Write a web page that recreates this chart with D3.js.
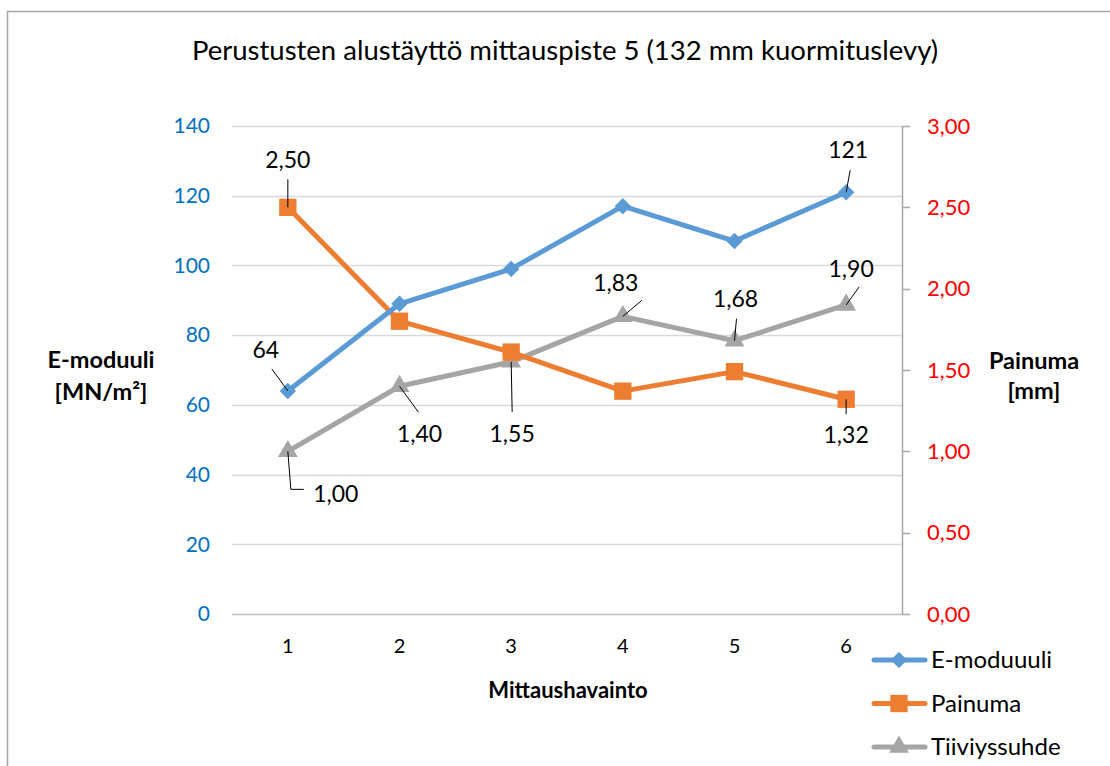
<!DOCTYPE html>
<meta charset="utf-8">
<head>
    <title>Perustusten alustäyttö</title>
    <script src="https://cdn.jsdelivr.net/npm/d3@7"></script>
    <style>
        body { margin: 0; background: #fff; }
        text { font-family: Lato, "Open Sans", sans-serif; }
    </style>
</head>
<body>
<div id="chart"></div>
<script>
    // data
    const categories = ["1", "2", "3", "4", "5", "6"];
    const eModuuli = [64, 89, 99, 117, 107, 121];
    const painuma = [2.50, 1.80, 1.61, 1.37, 1.49, 1.32];
    const tiiviyssuhde = [1.00, 1.40, 1.55, 1.83, 1.68, 1.90];
    const leftTicks = [0, 20, 40, 60, 80, 100, 120, 140];
    const rightTicks = [0, 0.5, 1, 1.5, 2, 2.5, 3];

    // which points get a data label (index), with label offset from the point
    const eLabels = [{i: 0, dx: -22, dy: -41, lx: -16, ly: -22}, {i: 5, dx: 2, dy: -42, lx: 4, ly: -22}];
    const pLabels = [{i: 0, dx: 0, dy: -47, lx: 0, ly: -28}, {i: 5, dx: 0, dy: 36, lx: 0, ly: 15}];
    const tLabels = [
        {i: 0, dx: 48, dy: 43, leader: [[0, 0], [3, 38], [16, 38]]},
        {i: 1, dx: 20, dy: 48, leader: [[0, 0], [19, 26]]},
        {i: 2, dx: 1, dy: 72, leader: [[0, 0], [1, 50]]},
        {i: 3, dx: -7, dy: -33, leader: [[0, 0], [19, -16]]},
        {i: 4, dx: 1, dy: -42, leader: [[0, 0], [2, -22]]},
        {i: 5, dx: 5, dy: -36, leader: [[0, 0], [13, -18]]}
    ];

    const width = 1110, height = 766;
    const plot = {left: 232, right: 902, top: 126, bottom: 614};

    const svg = d3.select("#chart").append("svg")
        .attr("width", width).attr("height", height);

    // outer chart border (cut by window on right and bottom)
    svg.append("rect")
        .attr("x", 7.5).attr("y", 11.5)
        .attr("width", 1120).attr("height", 800)
        .attr("fill", "none").attr("stroke", "#a6a6a6").attr("stroke-width", 1.5);

    const x = d3.scaleBand().domain(categories).range([plot.left, plot.right]);
    const xc = d => x(d) + x.bandwidth() / 2;
    const yL = d3.scaleLinear().domain([0, 140]).range([plot.bottom, plot.top]);
    const yR = d3.scaleLinear().domain([0, 3]).range([plot.bottom, plot.top]);

    // gridlines
    svg.append("g").selectAll("line").data(leftTicks).join("line")
        .attr("x1", plot.left).attr("x2", plot.right)
        .attr("y1", d => Math.round(yL(d)) + 0.5).attr("y2", d => Math.round(yL(d)) + 0.5)
        .attr("stroke", d => d === 0 ? "#bfbfbf" : "#d9d9d9").attr("stroke-width", 1.5);

    // left axis labels
    svg.append("g").selectAll("text").data(leftTicks).join("text")
        .attr("x", 210).attr("y", d => yL(d)).attr("dy", "0.35em")
        .attr("text-anchor", "end").attr("fill", "#0070c0")
        .style("font-size", "21px").text(d => d);

    // right axis
    const rAxis = svg.append("g");
    rAxis.append("line")
        .attr("x1", plot.right + 0.5).attr("x2", plot.right + 0.5)
        .attr("y1", plot.top).attr("y2", plot.bottom)
        .attr("stroke", "#a6a6a6").attr("stroke-width", 1.5);
    rAxis.selectAll("line.t").data(rightTicks).join("line").attr("class", "t")
        .attr("x1", plot.right).attr("x2", plot.right + 8)
        .attr("y1", d => Math.round(yR(d)) + 0.5).attr("y2", d => Math.round(yR(d)) + 0.5)
        .attr("stroke", "#a6a6a6").attr("stroke-width", 1.5);
    const fmt = d => d3.format(".2f")(d).replace(".", ",");
    rAxis.selectAll("text").data(rightTicks).join("text")
        .attr("x", 927).attr("y", d => yR(d)).attr("dy", "0.35em")
        .attr("fill", "#ff0000").style("font-size", "22px").text(fmt);

    // x labels
    svg.append("g").selectAll("text").data(categories).join("text")
        .attr("x", xc).attr("y", 646).attr("dy", "0.35em")
        .attr("text-anchor", "middle").attr("fill", "#000").style("font-size", "20px").text(d => d);

    // titles
    svg.append("text").attr("x", 565).attr("y", 50).attr("dy", "0.35em")
        .attr("text-anchor", "middle").style("font-size", "27.5px").text("Perustusten alustäyttö mittauspiste 5 (132 mm kuormituslevy)");
    svg.append("text").attr("x", 568).attr("y", 690).attr("dy", "0.35em")
        .attr("text-anchor", "middle").style("font-size", "22px").style("font-weight", "bold").text("Mittaushavainto");
    const lt = svg.append("text").attr("text-anchor", "middle").style("font-size", "23.5px").style("font-weight", "bold");
    lt.append("tspan").attr("x", 101).attr("y", 360).attr("dy", "0.35em").text("E-moduuli");
    lt.append("tspan").attr("x", 101).attr("y", 392).attr("dy", "0.35em").text("[MN/m²]");
    const rt = svg.append("text").attr("text-anchor", "middle").style("font-size", "23.5px").style("font-weight", "bold");
    rt.append("tspan").attr("x", 1034).attr("y", 361).attr("dy", "0.35em").text("Painuma");
    rt.append("tspan").attr("x", 1034).attr("y", 391).attr("dy", "0.35em").text("[mm]");

    // Excel style diamond: square turned 45 degrees
    const series = [
        {name: "E-moduuuli", values: eModuuli, y: yL, color: "#5b9bd5", symbol: d3.symbolSquare, size: 135, rot: 45},
        {name: "Painuma", values: painuma, y: yR, color: "#ed7d31", symbol: d3.symbolSquare, size: 300, rot: 0},
        {name: "Tiiviyssuhde", values: tiiviyssuhde, y: yR, color: "#a5a5a5", symbol: d3.symbolTriangle, size: 170, rot: 0}
    ];

    // draw gray first, then orange, then blue on top
    [series[2], series[1], series[0]].forEach(s => {
        const line = d3.line().x((d, i) => xc(categories[i])).y(d => s.y(d));
        svg.append("path").datum(s.values).attr("d", line)
            .attr("fill", "none").attr("stroke", s.color).attr("stroke-width", 5)
            .attr("stroke-linejoin", "round").attr("stroke-linecap", "round");
        svg.append("g").selectAll("path").data(s.values).join("path")
            .attr("transform", (d, i) => `translate(${xc(categories[i])},${s.y(d)}) rotate(${s.rot})`)
            .attr("d", d3.symbol().type(s.symbol).size(s.size))
            .attr("fill", s.color);
    });

    // data labels with leader lines
    const lab = svg.append("g");
    function addLabel(px, py, dx, dy, pts, txt) {
        lab.append("path")
            .attr("d", d3.line()(pts.map(p => [px + p[0], py + p[1]])))
            .attr("fill", "none").attr("stroke", "#000").attr("stroke-width", 1);
        lab.append("text").attr("x", px + dx).attr("y", py + dy).attr("dy", "0.35em")
            .attr("text-anchor", "middle").style("font-size", "23px").attr("fill", "#000").text(txt);
    }
    eLabels.forEach(l => {
        const px = xc(categories[l.i]), py = yL(eModuuli[l.i]);
        addLabel(px, py, l.dx, l.dy, [[0, 0], [l.lx, l.ly]], eModuuli[l.i]);
    });
    pLabels.forEach(l => {
        const px = xc(categories[l.i]), py = yR(painuma[l.i]);
        addLabel(px, py, l.dx, l.dy, [[0, 0], [l.lx, l.ly]], fmt(painuma[l.i]));
    });
    tLabels.forEach(l => {
        const px = xc(categories[l.i]), py = yR(tiiviyssuhde[l.i]);
        addLabel(px, py, l.dx, l.dy, l.leader, fmt(tiiviyssuhde[l.i]));
    });

    // legend
    const legend = svg.append("g");
    series.forEach((s, k) => {
        const ly = 660 + k * 43.5;
        legend.append("line").attr("x1", 874).attr("x2", 925).attr("y1", ly).attr("y2", ly)
            .attr("stroke", s.color).attr("stroke-width", 5).attr("stroke-linecap", "round");
        legend.append("path").attr("transform", `translate(899,${ly}) rotate(${s.rot})`)
            .attr("d", d3.symbol().type(s.symbol).size(s.size)).attr("fill", s.color);
        legend.append("text").attr("x", 931).attr("y", ly).attr("dy", "0.35em")
            .style("font-size", "24px").text(s.name);
    });
</script>
</body>
</html>
